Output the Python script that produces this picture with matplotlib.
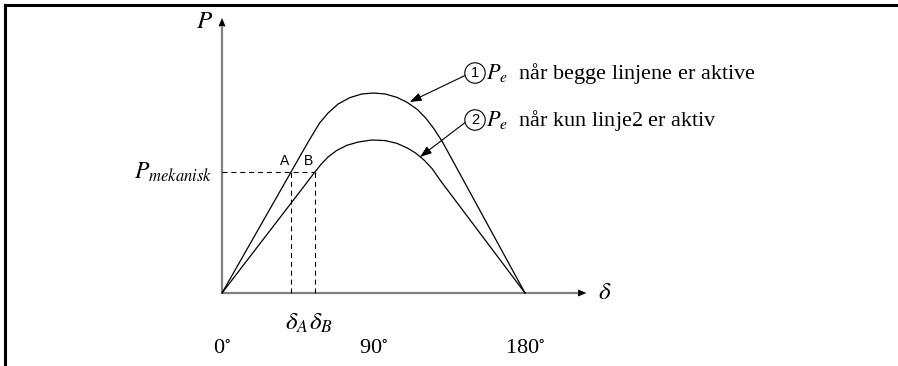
import matplotlib
matplotlib.use("Agg")
import matplotlib.pyplot as plt
from matplotlib.lines import Line2D

plt.rcParams["mathtext.fontset"] = "stix"
plt.rcParams["font.family"] = ["Liberation Serif", "DejaVu Serif"]

# Power-angle curves (delta in degrees, P in per unit of the curve-1 peak)
delta_1 = [0, 41.0, 47.0, 50.5, 54, 58, 63, 69, 76, 83, 90, 97, 104, 110, 116, 121, 126, 131, 180]
p_1 = [0, 0.605, 0.694, 0.745, 0.795, 0.85, 0.9, 0.945, 0.977, 0.995, 1.0, 0.995, 0.978,
       0.953, 0.918, 0.875, 0.82, 0.755, 0]

delta_2 = [0, 49.3, 55.2, 59, 63, 68, 74, 81, 89, 97, 104, 110, 115, 120, 125, 129.5, 180]
p_2 = [0, 0.54, 0.605, 0.645, 0.68, 0.712, 0.738, 0.755, 0.765, 0.762, 0.748, 0.725,
       0.70, 0.665, 0.62, 0.565, 0]

p_mek = 0.605
delta_A = 41.0
delta_B = 55.2

tick_values = [0, 90, 180]
tick_labels = [r"0$^{\circ}$", r"90$^{\circ}$", r"180$^{\circ}$"]

label_1 = r"$P_e$  når begge linjene er aktive"
label_2 = r"$P_e$  når kun linje2 er aktiv"

fig = plt.figure(figsize=(8.98, 3.66), dpi=100)
ax = fig.add_axes([0, 0, 1, 1])
ax.set_xlim(-131.9, 401.6)
ax.set_ylim(-0.365, 1.465)
ax.axis("off")

# frame lines along the top and left edge
fig.add_artist(Line2D([5 / 898, 1], [1 - 5 / 366, 1 - 5 / 366], color="black", lw=2.2,
                      transform=fig.transFigure))
fig.add_artist(Line2D([5 / 898, 5 / 898], [0, 1 - 5 / 366], color="black", lw=2.2,
                      transform=fig.transFigure))

# axes with arrow heads
axis_color = "#808080"
ax.plot([0, 214], [0, 0], color=axis_color, lw=1.6, solid_capstyle="butt")
ax.plot([0, 0], [0, 1.33], color=axis_color, lw=1.6, solid_capstyle="butt")
ax.annotate("", xy=(216.5, 0), xytext=(208, 0),
            arrowprops=dict(arrowstyle="-|>,head_length=0.6,head_width=0.25", color="black",
                            lw=0.01, shrinkA=0, shrinkB=0))
ax.annotate("", xy=(0, 1.375), xytext=(0, 1.30),
            arrowprops=dict(arrowstyle="-|>,head_length=0.6,head_width=0.25", color="black",
                            lw=0.01, shrinkA=0, shrinkB=0))
ax.text(-10.1, 1.355, r"$P$", fontsize=18, ha="center", va="center")
ax.text(227.5, 0.0, r"$\delta$", fontsize=18, ha="center", va="center")

# curves
ax.plot(delta_1, p_1, color="black", lw=0.9)
ax.plot(delta_2, p_2, color="black", lw=0.9)

# mechanical power and operating points
dash = dict(color="black", lw=0.8, dashes=(4.5, 3.5))
ax.plot([0, delta_B], [p_mek, p_mek], **dash)
ax.plot([delta_A, delta_A], [0, p_mek], **dash)
ax.plot([delta_B, delta_B], [0, p_mek], **dash)
ax.text(delta_A - 1.2, p_mek + 0.02, "A", fontsize=10, family="Liberation Sans",
        ha="right", va="bottom")
ax.text(delta_B - 1.2, p_mek + 0.02, "B", fontsize=10, family="Liberation Sans",
        ha="right", va="bottom")
ax.text(-6, p_mek, r"$P_{mekanisk}$", fontsize=17, ha="right", va="center")
ax.text(delta_A + 3.5, -0.15, r"$\delta_A$", fontsize=18, ha="center", va="center")
ax.text(delta_B + 3.5, -0.15, r"$\delta_B$", fontsize=18, ha="center", va="center")

for v, lab in zip(tick_values, tick_labels):
    ax.text(v, -0.28, lab, fontsize=16, ha="center", va="center")

# curve labels with arrows
for (cx, cy), num, lab, tip in [((150.3, 1.10), "1", label_1, (111.5, 0.955)),
                                ((150.3, 0.865), "2", label_2, (117.6, 0.68))]:
    ax.annotate("", xy=tip, xytext=(cx - 5.8, cy - 0.012),
                arrowprops=dict(arrowstyle="-|>,head_length=0.7,head_width=0.25",
                                color="black", lw=0.8, shrinkA=0, shrinkB=0))
    ax.text(cx, cy, num, fontsize=10.5, family="Liberation Sans", ha="center", va="center",
            bbox=dict(boxstyle="circle,pad=0.22", fc="white", ec="black", lw=0.8))
    ax.text(cx + 6.8, cy, lab, fontsize=16, ha="left", va="center")

fig.savefig("out.png", dpi=100)
